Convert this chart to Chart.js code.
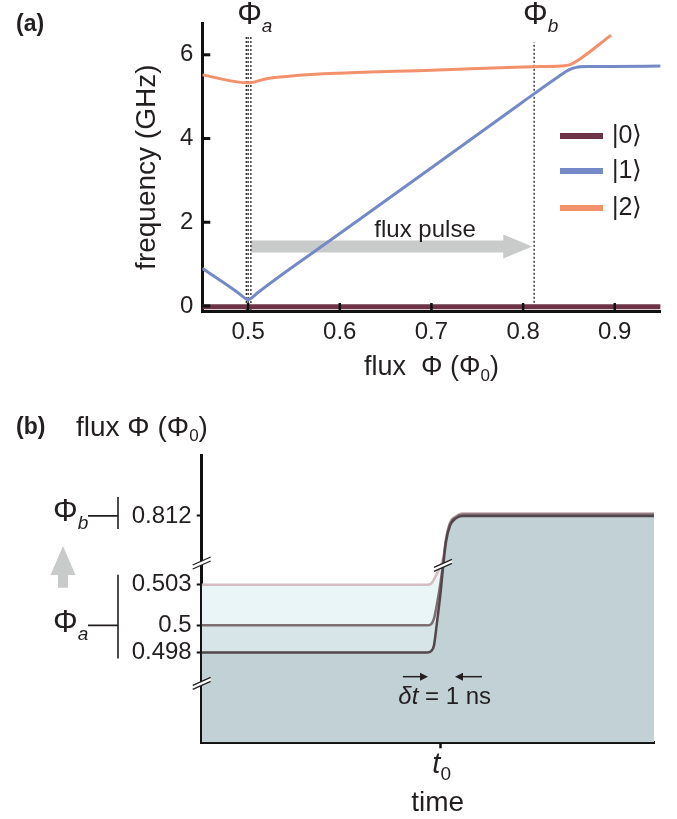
<!DOCTYPE html>
<html>
<head>
<meta charset="utf-8">
<script src="https://cdn.jsdelivr.net/npm/chart.js@4.4.1/dist/chart.umd.min.js"></script>
<style>
  html, body { margin: 0; padding: 0; background: #fff; }
  #wrap { position: relative; width: 677px; height: 819px; }
  .panel { position: absolute; left: 0; width: 677px; }
  #panelA { top: 0; height: 400px; }
  #panelB { top: 400px; height: 419px; }
</style>
</head>
<body>
<div id="wrap">
  <div class="panel" id="panelA"><canvas id="chartA" width="677" height="400"></canvas></div>
  <div class="panel" id="panelB"><canvas id="chartB" width="677" height="419"></canvas></div>
</div>
<script>
// ---- panel (a): level frequencies vs flux ----
const level0Flux = [0.45, 0.95];
const level0Freq = [-0.02, -0.02];
const level1Flux = [0.45, 0.49, 0.497, 0.5, 0.503, 0.51, 0.6, 0.7, 0.8, 0.84, 0.85, 0.858, 0.87, 0.95];
const level1Freq = [0.90, 0.30, 0.18, 0.15, 0.18, 0.31, 1.73, 3.30, 4.88, 5.50, 5.64, 5.70, 5.72, 5.73];
const level2Flux = [0.45, 0.5, 0.52, 0.55, 0.6, 0.7, 0.8, 0.818, 0.845, 0.852, 0.862, 0.896];
const level2Freq = [5.52, 5.33, 5.43, 5.50, 5.56, 5.63, 5.71, 5.72, 5.74, 5.77, 5.90, 6.47];
const levelLabels = ['|0\u27E9', '|1\u27E9', '|2\u27E9'];
const levelColors = ['#6d3447', '#7489c5', '#f4916d'];
const fluxTicksA = [0.5, 0.6, 0.7, 0.8, 0.9];
const freqTicks = [0, 2, 4, 6];
const phiA = [0.498, 0.5, 0.503];
const phiB = 0.812;
const phiALineFreq = [-0.12, 6.43];
const phiBLineFreq = [-0.02, 6.3];
const pulseArrowFlux = [0.503, 0.81];
const pulseArrowFreq = 1.42;

// ---- panel (b): flux pulse vs time (ns from t0) ----
const timeNs = [-8.85, -0.5, -0.35, -0.25, -0.15, 0, 0.1, 0.2, 0.35, 0.55, 0.8, 7.9];
const pulseFrom0498 = [0.498, 0.498, 0.4981, 0.4985, 0.5, 0.5025, 0.66, 0.8101, 0.8113, 0.8118, 0.812, 0.812];
const pulseFrom0500 = [0.5, 0.5, 0.5001, 0.5005, 0.50145, 0.50326, 0.6947, 0.81026, 0.81145, 0.81189, 0.8121, 0.8121];
const pulseFrom0503 = [0.503, 0.503, 0.5031, 0.5034, 0.5228, 0.6374, 0.752, 0.81034, 0.81153, 0.81196, 0.8122, 0.8122];
const fluxTicksB = [0.498, 0.5, 0.503, 0.812];
const axisBreakFlux = [0.4957, 0.6718];
const fluxFloor = 0.4913;

const F = "'Liberation Sans', Arial, Helvetica, sans-serif";
const INK = '#231f20';
Chart.defaults.font.family = F;
Chart.defaults.color = INK;

function pts(xs, ys) {
  return xs.map((v, i) => ({ x: v, y: ys[i] }));
}

// broken flux axis: two linear pieces joined by a squeezed gap
function fluxToUnit(v) {
  const lowEnd = 0.50368, highStart = 0.80928;
  if (v <= lowEnd) return 40.7 + (v - 0.5) * 4700;
  if (v >= highStart) return 78.8 + (v - 0.812) * 4700;
  return 58 + (v - lowEnd) / (highStart - lowEnd) * 8;
}

class BrokenFluxScale extends Chart.LinearScale {
  getPixelForValue(value) {
    if (value === null || value === undefined || isNaN(value)) return NaN;
    return this.getPixelForDecimal(fluxToUnit(value) / 100);
  }
  buildTicks() {
    return fluxTicksB.map(v => ({ value: v }));
  }
}
BrokenFluxScale.id = 'brokenFlux';
BrokenFluxScale.defaults = Chart.LinearScale.defaults;
Chart.register(BrokenFluxScale);

function drawRuns(ctx, runs, x, y, align) {
  let total = 0;
  runs.forEach(r => { ctx.font = r.font; r.w = ctx.measureText(r.text).width; total += r.w; });
  let cx = align === 'center' ? x - total / 2 : align === 'right' ? x - total : x;
  ctx.textAlign = 'left';
  ctx.textBaseline = 'middle';
  runs.forEach(r => { ctx.font = r.font; ctx.fillText(r.text, cx, y + (r.dy || 0)); cx += r.w; });
}

function breakMark(ctx, x, y) {
  ctx.save();
  ctx.fillStyle = '#fff';
  ctx.beginPath();
  ctx.moveTo(x - 9, y + 2); ctx.lineTo(x + 9, y - 6); ctx.lineTo(x + 9, y - 2); ctx.lineTo(x - 9, y + 6);
  ctx.closePath(); ctx.fill();
  ctx.strokeStyle = INK; ctx.lineWidth = 1.3;
  ctx.beginPath();
  ctx.moveTo(x - 9, y + 2); ctx.lineTo(x + 9, y - 6);
  ctx.moveTo(x - 9, y + 6); ctx.lineTo(x + 9, y - 2);
  ctx.stroke();
  ctx.restore();
}

function smallArrow(ctx, x0, x1, y) {
  const dir = Math.sign(x1 - x0);
  ctx.beginPath(); ctx.moveTo(x0, y); ctx.lineTo(x1 - dir * 6, y); ctx.stroke();
  ctx.beginPath(); ctx.moveTo(x1, y); ctx.lineTo(x1 - dir * 8, y - 4); ctx.lineTo(x1 - dir * 8, y + 4); ctx.closePath(); ctx.fill();
}

const panelAExtras = {
  id: 'panelAExtras',
  beforeDatasetsDraw(chart) {
    const { ctx, scales: { x, y } } = chart;
    const x0 = x.getPixelForValue(pulseArrowFlux[0]);
    const x1 = x.getPixelForValue(pulseArrowFlux[1]);
    const yc = y.getPixelForValue(pulseArrowFreq);
    ctx.save();
    ctx.fillStyle = '#c9caca';
    ctx.beginPath();
    ctx.moveTo(x0, yc - 6); ctx.lineTo(x1 - 29, yc - 6); ctx.lineTo(x1 - 29, yc - 12);
    ctx.lineTo(x1, yc); ctx.lineTo(x1 - 29, yc + 12); ctx.lineTo(x1 - 29, yc + 6); ctx.lineTo(x0, yc + 6);
    ctx.closePath(); ctx.fill();
    ctx.restore();
  },
  afterDatasetsDraw(chart) {
    const { ctx, chartArea: a, scales: { x, y } } = chart;
    ctx.save();
    ctx.strokeStyle = '#111';
    ctx.lineWidth = 3;
    freqTicks.forEach(v => {
      const p = y.getPixelForValue(v);
      ctx.beginPath(); ctx.moveTo(a.left, p); ctx.lineTo(a.left + 8, p); ctx.stroke();
    });
    ctx.lineWidth = 2.5;
    fluxTicksA.forEach(v => {
      const p = x.getPixelForValue(v);
      ctx.beginPath(); ctx.moveTo(p, a.bottom); ctx.lineTo(p, a.bottom - 8); ctx.stroke();
    });
    ctx.restore();
  },
  afterDraw(chart) {
    const { ctx, chartArea: a, scales: { x, y } } = chart;
    ctx.save();
    ctx.fillStyle = INK;
    ctx.textBaseline = 'middle';
    ctx.font = 'bold 23px ' + F;
    ctx.fillText('(a)', 16, 25);

    // axis titles
    ctx.save();
    ctx.translate(147, (a.top + a.bottom) / 2);
    ctx.rotate(-Math.PI / 2);
    ctx.textAlign = 'center';
    ctx.font = '28px ' + F;
    ctx.fillText('frequency (GHz)', 0, 0);
    ctx.restore();
    drawRuns(ctx, [
      { text: 'flux  \u03A6 (\u03A6', font: '27px ' + F },
      { text: '0', font: '17px ' + F, dy: 8 },
      { text: ')', font: '27px ' + F }
    ], (a.left + a.right) / 2, 368, 'center');

    // flux markers above the plot
    drawRuns(ctx, [
      { text: '\u03A6', font: '31px ' + F },
      { text: 'a', font: 'italic 19px ' + F, dy: 12 }
    ], x.getPixelForValue(phiA[1]) - 11, 15, 'left');
    drawRuns(ctx, [
      { text: '\u03A6', font: '31px ' + F },
      { text: 'b', font: 'italic 19px ' + F, dy: 12 }
    ], x.getPixelForValue(phiB) - 11, 15, 'left');

    ctx.font = '24px ' + F;
    ctx.textAlign = 'center';
    ctx.fillText('flux pulse', x.getPixelForValue(0.693), y.getPixelForValue(1.8));

    // legend
    const legendY = [136, 171, 208];
    levelLabels.forEach((lab, i) => {
      ctx.fillStyle = levelColors[i];
      ctx.fillRect(560, legendY[i] - 3, 43, 6);
      ctx.fillStyle = INK;
      ctx.textAlign = 'left';
      ctx.font = '25px ' + F;
      ctx.fillText(lab, 612, legendY[i]);
    });
    ctx.restore();
  }
};

new Chart(document.getElementById('chartA'), {
  type: 'line',
  data: {
    datasets: [
      { label: levelLabels[0], data: pts(level0Flux, level0Freq), borderColor: levelColors[0], borderWidth: 5 },
      { label: levelLabels[1], data: pts(level1Flux, level1Freq), borderColor: levelColors[1], borderWidth: 3, cubicInterpolationMode: 'monotone' },
      { label: levelLabels[2], data: pts(level2Flux, level2Freq), borderColor: levelColors[2], borderWidth: 3, cubicInterpolationMode: 'monotone' },
      ...phiA.map(v => ({ data: pts([v, v], phiALineFreq), borderColor: '#222', borderWidth: 1.3, borderDash: [2, 2] })),
      { data: pts([phiB, phiB], phiBLineFreq), borderColor: '#222', borderWidth: 1.3, borderDash: [2, 2] }
    ]
  },
  options: {
    responsive: false,
    animation: false,
    layout: { padding: { left: 0, top: 20.7, right: 16.4, bottom: 0 } },
    elements: { point: { radius: 0 }, line: { borderCapStyle: 'butt' } },
    plugins: { legend: { display: false }, tooltip: { enabled: false } },
    scales: {
      x: {
        type: 'linear', min: 0.45, max: 0.95,
        afterFit: s => { s.height = 89; },
        afterBuildTicks: s => { s.ticks = fluxTicksA.map(v => ({ value: v })); },
        grid: { display: false, drawTicks: false },
        border: { display: true, color: '#111', width: 3 },
        ticks: { padding: 7, font: { size: 24 }, color: INK, autoSkip: false, maxRotation: 0, callback: v => v.toFixed(1) }
      },
      y: {
        type: 'linear', min: -0.12, max: 6.75,
        afterFit: s => { s.width = 202.3; },
        afterBuildTicks: s => { s.ticks = freqTicks.map(v => ({ value: v })); },
        grid: { display: false, drawTicks: false },
        border: { display: true, color: '#111', width: 3 },
        ticks: { padding: 9, font: { size: 24 }, color: INK, callback: v => String(v) }
      }
    }
  },
  plugins: [panelAExtras]
});

const panelBExtras = {
  id: 'panelBExtras',
  afterDraw(chart) {
    const { ctx, chartArea: a, scales: { x, y } } = chart;
    ctx.save();
    ctx.fillStyle = INK;
    ctx.strokeStyle = INK;
    ctx.textBaseline = 'middle';
    ctx.font = 'bold 23px ' + F;
    ctx.fillText('(b)', 16, 28);
    drawRuns(ctx, [
      { text: 'flux \u03A6 (\u03A6', font: '28px ' + F },
      { text: '0', font: '17px ' + F, dy: 8 },
      { text: ')', font: '28px ' + F }
    ], 76, 28, 'left');

    // axis breaks
    axisBreakFlux.forEach(v => breakMark(ctx, a.left, y.getPixelForValue(v)));
    breakMark(ctx, x.getPixelForValue(0.085), y.getPixelForValue(0.64));

    // Phi_a / Phi_b brackets on the left
    const yb = y.getPixelForValue(fluxTicksB[3]);
    const ya = y.getPixelForValue(fluxTicksB[1]);
    const yTop = y.getPixelForValue(fluxTicksB[2]);
    const yLow = y.getPixelForValue(fluxTicksB[0]);
    ctx.lineWidth = 1.6;
    ctx.beginPath();
    ctx.moveTo(88, yb); ctx.lineTo(118, yb);
    ctx.moveTo(118, yb - 19); ctx.lineTo(118, yb + 13);
    ctx.moveTo(88, ya); ctx.lineTo(118, ya);
    ctx.moveTo(118, yTop - 10); ctx.lineTo(118, yLow + 6);
    ctx.stroke();
    drawRuns(ctx, [
      { text: '\u03A6', font: '31px ' + F },
      { text: 'b', font: 'italic 19px ' + F, dy: 11 }
    ], 53, yb - 3, 'left');
    drawRuns(ctx, [
      { text: '\u03A6', font: '31px ' + F },
      { text: 'a', font: 'italic 19px ' + F, dy: 11 }
    ], 53, ya - 2, 'left');

    // grey up arrow
    const tip = yb + 30, base = yTop + 3;
    ctx.fillStyle = '#c9caca';
    ctx.beginPath();
    ctx.moveTo(63, tip); ctx.lineTo(75.5, tip + 29); ctx.lineTo(68, tip + 29); ctx.lineTo(68, base);
    ctx.lineTo(58, base); ctx.lineTo(58, tip + 29); ctx.lineTo(50.5, tip + 29);
    ctx.closePath(); ctx.fill();

    // delta t marker
    ctx.fillStyle = INK;
    ctx.lineWidth = 1.5;
    const ay = y.getPixelForValue(0.4962);
    smallArrow(ctx, x.getPixelForValue(-1.4), x.getPixelForValue(-0.47), ay);
    smallArrow(ctx, x.getPixelForValue(1.53), x.getPixelForValue(0.53), ay);
    drawRuns(ctx, [
      { text: '\u03B4t', font: 'italic 24px ' + F },
      { text: ' = 1 ns', font: '24px ' + F }
    ], x.getPixelForValue(0.15), ay + 21, 'center');

    // t0 and time
    const t0 = x.getPixelForValue(0);
    drawRuns(ctx, [
      { text: 't', font: 'italic 29px ' + F },
      { text: '0', font: '19px ' + F, dy: 10 }
    ], t0 + 1, 365, 'center');
    ctx.font = '28px ' + F;
    ctx.textAlign = 'center';
    ctx.fillText('time', t0 - 3, 403);
    ctx.restore();
  }
};

new Chart(document.getElementById('chartB'), {
  type: 'line',
  data: {
    datasets: [
      { data: pts(timeNs, pulseFrom0498), borderColor: '#52464a', borderWidth: 2.5, fill: { value: fluxFloor }, backgroundColor: '#c1d1d6', cubicInterpolationMode: 'monotone' },
      { data: pts(timeNs, pulseFrom0500), borderColor: '#7d6f73', borderWidth: 2.5, fill: '-1', backgroundColor: '#d7e5e9', cubicInterpolationMode: 'monotone' },
      { data: pts(timeNs, pulseFrom0503), borderColor: '#d5bcc0', borderWidth: 2.5, fill: '-1', backgroundColor: '#eaf5f7', cubicInterpolationMode: 'monotone' }
    ]
  },
  options: {
    responsive: false,
    animation: false,
    layout: { padding: { left: 0, top: 55, right: 23, bottom: 0 } },
    elements: { point: { radius: 0 } },
    plugins: { legend: { display: false }, tooltip: { enabled: false } },
    scales: {
      x: {
        type: 'linear', min: -8.85, max: 7.9,
        afterFit: s => { s.height = 76.7; },
        afterBuildTicks: s => { s.ticks = [{ value: 0 }]; },
        grid: { display: true, drawOnChartArea: false, drawTicks: true, tickLength: 6, tickWidth: 2.5, tickColor: '#111' },
        border: { display: true, color: '#111', width: 3 },
        ticks: { display: false }
      },
      y: {
        type: 'brokenFlux', min: fluxFloor, max: 0.8165,
        afterFit: s => { s.width = 201.7; },
        grid: { display: true, drawOnChartArea: false, drawTicks: true, tickLength: 5, tickWidth: 2, tickColor: '#111' },
        border: { display: true, color: '#111', width: 3 },
        ticks: { padding: 5, autoSkip: false, font: { size: 24 }, color: INK, callback: v => String(v) }
      }
    }
  },
  plugins: [panelBExtras]
});
</script>
</body>
</html>
